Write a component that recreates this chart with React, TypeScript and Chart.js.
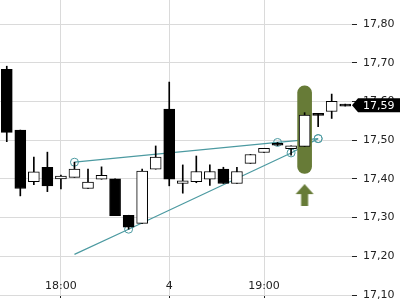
import React, { useEffect, useRef } from "react";
import { Chart, registerables } from "chart.js";

Chart.register(...registerables);

// x-axis category labels (one per candle, only three are shown)
const xLabels = [
  "", "", "", "", "18:00", "", "", "", "", "", "", "", "4",
  "", "", "", "", "", "", "19:00", "", "", "", "", "", "",
];

// candle values
const candleOpen = [
  17.683, 17.526, 17.393, 17.43, 17.4, 17.404, 17.375, 17.399, 17.4, 17.306,
  17.285, 17.425, 17.58, 17.388, 17.393, 17.399, 17.425, 17.388, 17.44, 17.468,
  17.487, 17.478, 17.484, 17.564, 17.574, 17.588,
];
const candleClose = [
  17.52, 17.375, 17.418, 17.382, 17.407, 17.425, 17.392, 17.409, 17.305, 17.275,
  17.42, 17.456, 17.399, 17.395, 17.419, 17.419, 17.388, 17.419, 17.463, 17.479,
  17.492, 17.485, 17.565, 17.569, 17.6, 17.593,
];
const candleHigh = [
  17.691, 17.526, 17.456, 17.469, 17.41, 17.443, 17.425, 17.431, 17.4, 17.306,
  17.425, 17.485, 17.65, 17.436, 17.459, 17.436, 17.43, 17.43, 17.463, 17.479,
  17.494, 17.485, 17.571, 17.569, 17.619, 17.593,
];
const candleLow = [
  17.496, 17.356, 17.385, 17.367, 17.374, 17.404, 17.375, 17.399, 17.305, 17.27,
  17.285, 17.425, 17.382, 17.363, 17.39, 17.383, 17.388, 17.388, 17.44, 17.468,
  17.486, 17.461, 17.484, 17.535, 17.556, 17.588,
];

// trend lines (value at candle index, null = none)
const upperTrend = [
  null, null, null, null, null, 17.443, null, null, null, null, null, null, null,
  null, null, null, null, null, null, null, 17.494, null, null, 17.504, null, null,
];
const upperTrendMarks = [0, 0, 0, 0, 0, 4, 0, 0, 0, 0, 0, 0, 0, 0, 0, 0, 0, 0, 0, 0, 4, 0, 0, 4, 0, 0];
const lowerTrend = [
  null, null, null, null, null, 17.205, null, null, null, 17.27, null, null, null,
  null, null, null, null, null, null, null, null, 17.467, null, 17.504, null, null,
];
const lowerTrendMarks = [0, 0, 0, 0, 0, 0, 0, 0, 0, 4, 0, 0, 0, 0, 0, 0, 0, 0, 0, 0, 0, 4, 0, 4, 0, 0];

// highlighted candle (signal) and its arrow
const highlightIndex = 22;
const highlightRange: [number, number] = [17.414, 17.64];
const arrowValue = 17.358;

// y axis
const yMin = 17.1;
const yMax = 17.862;
const yStep = 0.1;

const GREEN = "#677b37";
const TEAL = "#4c9aa1";

const fmt = (v: number) => v.toFixed(2).replace(".", ",");

export default function App() {
  const ref = useRef<HTMLCanvasElement | null>(null);

  useEffect(() => {
    if (!ref.current) return;
    Chart.defaults.font.family = "'DejaVu Sans', sans-serif";

    // arrow glyph used as a point style
    const arrow = document.createElement("canvas");
    arrow.width = 20;
    arrow.height = 22;
    const actx = arrow.getContext("2d")!;
    actx.fillStyle = GREEN;
    actx.beginPath();
    actx.moveTo(10, 0);
    actx.lineTo(19, 10);
    actx.lineTo(13.5, 10);
    actx.lineTo(13.5, 22);
    actx.lineTo(6.5, 22);
    actx.lineTo(6.5, 10);
    actx.lineTo(1, 10);
    actx.closePath();
    actx.fill();

    const n = candleOpen.length;
    const bodies = candleOpen.map((o, i) => [Math.min(o, candleClose[i]), Math.max(o, candleClose[i])]);
    const wicks = candleLow.map((l, i) => [l, candleHigh[i]]);
    // bearish and doji candles are drawn solid black, bullish ones hollow
    const bodyColors = candleOpen.map((o, i) =>
      candleClose[i] < o || Math.abs(candleClose[i] - o) < 0.006 ? "#000" : "#fff"
    );
    const highlight = xLabels.map((_, i) => (i === highlightIndex ? highlightRange : null));
    const arrowData = xLabels.map((_, i) => (i === highlightIndex ? arrowValue : null));
    const lastPrice = candleClose[n - 1];

    const flagPlugin = {
      id: "priceFlag",
      afterDraw(chart: any) {
        const y = chart.scales.y.getPixelForValue(Number(lastPrice.toFixed(2)));
        const x0 = chart.chartArea.right;
        const ctx = chart.ctx;
        ctx.save();
        ctx.fillStyle = "#000";
        ctx.beginPath();
        ctx.moveTo(x0, y);
        ctx.lineTo(x0 + 6, y - 7);
        ctx.lineTo(400, y - 7);
        ctx.lineTo(400, y + 7);
        ctx.lineTo(x0 + 6, y + 7);
        ctx.closePath();
        ctx.fill();
        ctx.fillStyle = "#fff";
        ctx.font = "11px 'DejaVu Sans'";
        ctx.textBaseline = "middle";
        ctx.textAlign = "left";
        ctx.fillText(fmt(lastPrice), x0 + 11, y + 0.5);
        ctx.restore();
      },
    };

    const chart = new Chart(ref.current, {
      type: "bar",
      data: {
        labels: xLabels,
        datasets: [
          {
            type: "line",
            data: upperTrend as any,
            borderColor: TEAL,
            borderWidth: 1.2,
            spanGaps: true,
            pointRadius: upperTrendMarks,
            pointBorderColor: TEAL,
            pointBackgroundColor: "rgba(0,0,0,0)",
            pointBorderWidth: 1,
            order: 6,
          } as any,
          {
            type: "line",
            data: lowerTrend as any,
            borderColor: TEAL,
            borderWidth: 1.2,
            spanGaps: true,
            pointRadius: lowerTrendMarks,
            pointBorderColor: TEAL,
            pointBackgroundColor: "rgba(0,0,0,0)",
            pointBorderWidth: 1,
            order: 5,
          } as any,
          {
            data: highlight as any,
            backgroundColor: GREEN,
            barThickness: 14,
            borderRadius: 7,
            borderSkipped: false,
            grouped: false,
            order: 4,
          } as any,
          {
            type: "line",
            data: arrowData as any,
            showLine: false,
            pointStyle: arrow,
            pointRadius: 5,
            order: 3,
          } as any,
          {
            data: wicks as any,
            backgroundColor: "#000",
            barThickness: 1,
            grouped: false,
            order: 2,
          } as any,
          {
            data: bodies as any,
            backgroundColor: bodyColors,
            borderColor: "#000",
            borderWidth: 1,
            borderSkipped: false,
            barThickness: 11,
            grouped: false,
            order: 1,
          } as any,
        ],
      },
      options: {
        responsive: false,
        animation: false,
        events: [],
        layout: { padding: 0, autoPadding: false },
        plugins: { legend: { display: false }, tooltip: { enabled: false } },
        scales: {
          x: {
            type: "category",
            offset: true,
            border: { display: false },
            grid: {
              offset: false,
              color: (c: any) => (xLabels[c.index] ? "#dadada" : "rgba(0,0,0,0)"),
              tickColor: (c: any) => (xLabels[c.index] ? "#222" : "rgba(0,0,0,0)"),
              tickLength: 3,
            },
            ticks: {
              autoSkip: false,
              maxRotation: 0,
              mirror: true,
              padding: 2,
              color: "#222",
              font: { size: 11 },
            },
            afterFit: (s: any) => {
              s.height = 5;
              s.paddingLeft = 0;
              s.paddingRight = 0;
            },
          },
          y: {
            position: "right",
            min: yMin,
            max: yMax,
            border: { display: false },
            grid: { color: "#dadada", tickColor: "#222", tickLength: 5 },
            ticks: {
              stepSize: yStep,
              includeBounds: false,
              padding: 6,
              color: "#222",
              font: { size: 11 },
              callback: (v: any) => fmt(Number(v)),
            },
            afterFit: (s: any) => {
              s.width = 48;
              s.paddingTop = 0;
              s.paddingBottom = 0;
            },
          },
        },
      } as any,
      plugins: [flagPlugin],
    });
    return () => chart.destroy();
  }, []);

  return (
    <div style={{ position: "fixed", left: 0, top: 0, width: 400, height: 300, background: "#fff" }}>
      <canvas ref={ref} width={400} height={300} style={{ display: "block" }} />
    </div>
  );
}
